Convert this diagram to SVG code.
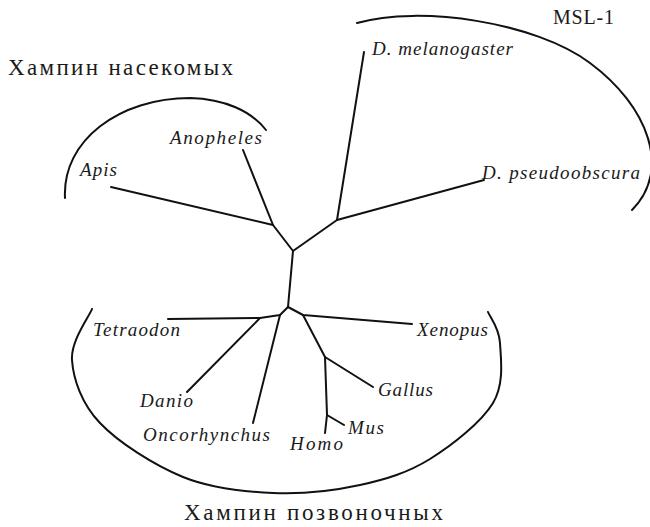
<svg xmlns="http://www.w3.org/2000/svg" width="650" height="527" viewBox="0 0 650 527">
<style>
  .edge { stroke: #111; stroke-width: 2; fill: none; stroke-linecap: round; stroke-linejoin: round; }
  .arc { stroke: #111; stroke-width: 2; fill: none; stroke-linecap: round; }
  .sp { font-family: "Liberation Serif", "Times New Roman", serif; font-style: italic; font-size: 19px; fill: #1a1a1a; }
  .grp { font-family: "Liberation Serif", "Times New Roman", serif; font-size: 23px; fill: #1a1a1a; }
  .msl { font-family: "Liberation Serif", "Times New Roman", serif; font-size: 20px; fill: #1a1a1a; }
</style>
<rect width="650" height="527" fill="#ffffff"/>

<g id="clades">
  <path id="arc-insects" class="arc" d="M65,198 C62,140 120,98 190,98 C225,99 251,111 266,130"/>
  <path id="arc-msl" class="arc" d="M357,23 C420,5 535,22 590,63 C648,106 672,170 632,210"/>
  <path id="arc-vertebrates" class="arc" d="M92,309 C88.7,317.5 70.7,341 72,360 C73.3,379 81.5,403.5 100,423 C118.5,442.5 154.2,465.3 183,477 C211.8,488.7 243.5,491.7 273,493 C302.5,494.3 333.8,490.7 360,485 C386.2,479.3 407.8,472.7 430,459 C452.2,445.3 481.3,422.3 493,403 C504.7,383.7 500.8,358.2 500,343 C499.2,327.8 490,317.2 488,312"/>
</g>

<g id="connectors">
  <polyline class="edge" points="111,187 273,225"/>
  <polyline class="edge" points="243,150 273,225 293,251"/>
  <polyline class="edge" points="364,52 337,220"/>
  <polyline class="edge" points="484,180 337,220 293,251"/>
  <polyline class="edge" points="293,251 288,307"/>
  <polyline class="edge" points="288,307 280,315 260,318 168,319"/>
  <polyline class="edge" points="260,318 187,392"/>
  <polyline class="edge" points="280,315 253,423"/>
  <polyline class="edge" points="288,307 303,315 412,324"/>
  <polyline class="edge" points="303,315 325,357 373,387"/>
  <polyline class="edge" points="325,357 327,415 325,433"/>
  <polyline class="edge" points="327,415 344,425"/>
</g>

<g id="group-insects"><text class="grp" x="8" y="75" textLength="225" lengthAdjust="spacing">Хампин насекомых</text></g>
<g id="group-msl1"><text class="msl" x="553" y="24" textLength="61" lengthAdjust="spacing">MSL-1</text></g>
<g id="group-vertebrates"><text class="grp" x="184" y="520" textLength="259" lengthAdjust="spacing">Хампин позвоночных</text></g>

<g id="node-apis"><text class="sp" x="80" y="176" textLength="37" lengthAdjust="spacing">Apis</text></g>
<g id="node-anopheles"><text class="sp" x="170" y="144" textLength="92" lengthAdjust="spacing">Anopheles</text></g>
<g id="node-dmel"><text class="sp" x="372" y="55" textLength="141" lengthAdjust="spacing">D. melanogaster</text></g>
<g id="node-dpse"><text class="sp" x="482" y="179" textLength="158" lengthAdjust="spacing">D. pseudoobscura</text></g>
<g id="node-tetraodon"><text class="sp" x="93" y="336" textLength="87" lengthAdjust="spacing">Tetraodon</text></g>
<g id="node-danio"><text class="sp" x="140" y="407" textLength="53" lengthAdjust="spacing">Danio</text></g>
<g id="node-oncorhynchus"><text class="sp" x="143" y="441" textLength="127" lengthAdjust="spacing">Oncorhynchus</text></g>
<g id="node-homo"><text class="sp" x="290" y="450" textLength="53" lengthAdjust="spacing">Homo</text></g>
<g id="node-mus"><text class="sp" x="348" y="434" textLength="36" lengthAdjust="spacing">Mus</text></g>
<g id="node-gallus"><text class="sp" x="378" y="396" textLength="55" lengthAdjust="spacing">Gallus</text></g>
<g id="node-xenopus"><text class="sp" x="417" y="336" textLength="71" lengthAdjust="spacing">Xenopus</text></g>
</svg>
